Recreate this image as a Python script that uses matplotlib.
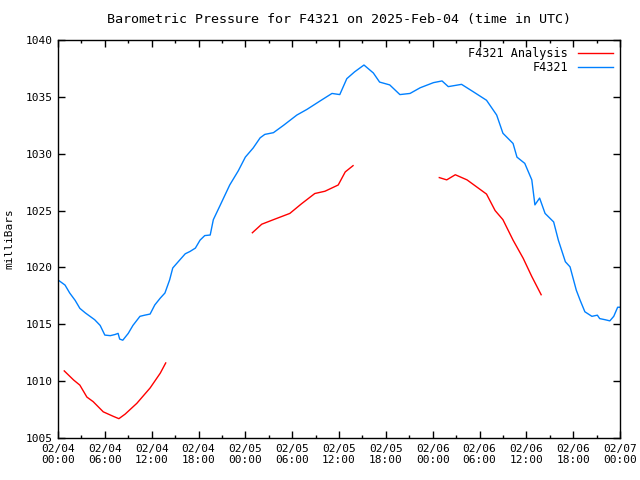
import matplotlib.pyplot as plt
from matplotlib.ticker import MultipleLocator

# hours since 2025-02-04 00:00 UTC, pressure in millibars
station_hours = [0.0, 0.9, 1.5, 2.2, 2.8, 3.5, 4.1, 4.7, 5.4, 6.0, 6.7, 7.3, 7.7, 7.9, 8.3,
                 9.0, 9.6, 10.5, 11.1, 11.8, 12.4, 13.1, 13.7, 14.3, 14.7, 15.4, 16.3, 16.9,
                 17.6, 18.2, 18.8, 19.5, 19.9, 20.8, 22.0, 23.1, 24.0, 25.0, 25.9, 26.5, 27.6,
                 28.9, 30.6, 31.9, 33.6, 35.1, 36.1, 37.0, 38.0, 39.2, 40.4, 41.2, 42.5, 43.8,
                 45.1, 46.4, 48.1, 49.2, 50.0, 51.7, 53.2, 54.9, 56.2, 57.0, 58.3, 58.8, 59.8,
                 60.7, 61.1, 61.7, 62.4, 63.5, 64.1, 65.0, 65.6, 66.4, 66.9, 67.5, 68.4, 69.1,
                 69.4, 70.1, 70.7, 71.2, 71.7, 72.0]
station_mb = [1018.9, 1018.45, 1017.75, 1017.1, 1016.4, 1016.0, 1015.7, 1015.4, 1014.9, 1014.05,
              1014.0, 1014.1, 1014.2, 1013.7, 1013.6, 1014.2, 1014.9, 1015.7, 1015.8, 1015.9,
              1016.7, 1017.3, 1017.75, 1018.9, 1019.95, 1020.5, 1021.2, 1021.4, 1021.7, 1022.4,
              1022.8, 1022.85, 1024.2, 1025.5, 1027.25, 1028.5, 1029.7, 1030.5, 1031.4, 1031.7,
              1031.85, 1032.5, 1033.4, 1033.9, 1034.65, 1035.3, 1035.2, 1036.6, 1037.2, 1037.8,
              1037.1, 1036.3, 1036.05, 1035.2, 1035.3, 1035.8, 1036.25, 1036.4, 1035.9, 1036.1,
              1035.45, 1034.7, 1033.4, 1031.8, 1030.9, 1029.7, 1029.15, 1027.7, 1025.5, 1026.1,
              1024.75, 1024.0, 1022.4, 1020.5, 1020.05, 1018.0, 1017.1, 1016.1, 1015.7, 1015.8,
              1015.5, 1015.4, 1015.3, 1015.7, 1016.5, 1016.5]

# analysis comes in three separate pieces
analysis_hours = [
    [0.8, 2.0, 2.8, 3.7, 4.5, 5.8, 7.1, 7.8, 8.6, 10.1, 11.8, 13.1, 13.8],
    [24.9, 26.1, 27.6, 29.7, 31.2, 32.9, 34.2, 35.9, 36.8, 37.8],
    [48.85, 49.8, 50.9, 52.4, 53.4, 54.9, 56.0, 57.0, 58.3, 59.6, 60.7, 61.9],
]
analysis_mb = [
    [1010.9, 1010.1, 1009.65, 1008.6, 1008.2, 1007.3, 1006.9, 1006.7, 1007.1, 1008.05, 1009.4,
     1010.7, 1011.6],
    [1023.05, 1023.8, 1024.2, 1024.75, 1025.6, 1026.5, 1026.7, 1027.25, 1028.4, 1028.95],
    [1027.9, 1027.7, 1028.15, 1027.7, 1027.2, 1026.45, 1025.0, 1024.2, 1022.4, 1020.8, 1019.2,
     1017.6],
]

tick_labels = ['02/04\n00:00', '02/04\n06:00', '02/04\n12:00', '02/04\n18:00',
               '02/05\n00:00', '02/05\n06:00', '02/05\n12:00', '02/05\n18:00',
               '02/06\n00:00', '02/06\n06:00', '02/06\n12:00', '02/06\n18:00',
               '02/07\n00:00']

plt.rcParams['font.family'] = 'DejaVu Sans Mono'
plt.rcParams['font.size'] = 8

fig = plt.figure(figsize=(6.4, 4.8), dpi=100)
ax = fig.add_axes([58 / 640, 1 - 438 / 480, 562 / 640, 398 / 480])

for i, (h, p) in enumerate(zip(analysis_hours, analysis_mb)):
    ax.plot(h, p, color='#ff0000', lw=1, label='F4321 Analysis' if i == 0 else None)
ax.plot(station_hours, station_mb, color='#0080ff', lw=1, label='F4321')

ax.set_xlim(0, 72)
ax.set_ylim(1005, 1040)
ax.set_xticks(range(0, 73, 6))
ax.set_xticklabels(tick_labels)
ax.xaxis.set_minor_locator(MultipleLocator(3))
ax.set_yticks(range(1005, 1041, 5))
ax.tick_params(which='both', direction='in', top=True, right=True, width=1)
ax.tick_params(which='major', length=5, pad=4)
ax.tick_params(which='minor', length=2.5)
for s in ax.spines.values():
    s.set_linewidth(1)

ax.set_ylabel('milliBars', labelpad=8)
ax.set_title('Barometric Pressure for F4321 on 2025-Feb-04 (time in UTC)', pad=12)
ax.legend(loc='upper right', frameon=False, markerfirst=False, handlelength=3.0,
          labelspacing=0.1, borderaxespad=0.2, fontsize=8.5)

fig.savefig('out.png', dpi=100)
